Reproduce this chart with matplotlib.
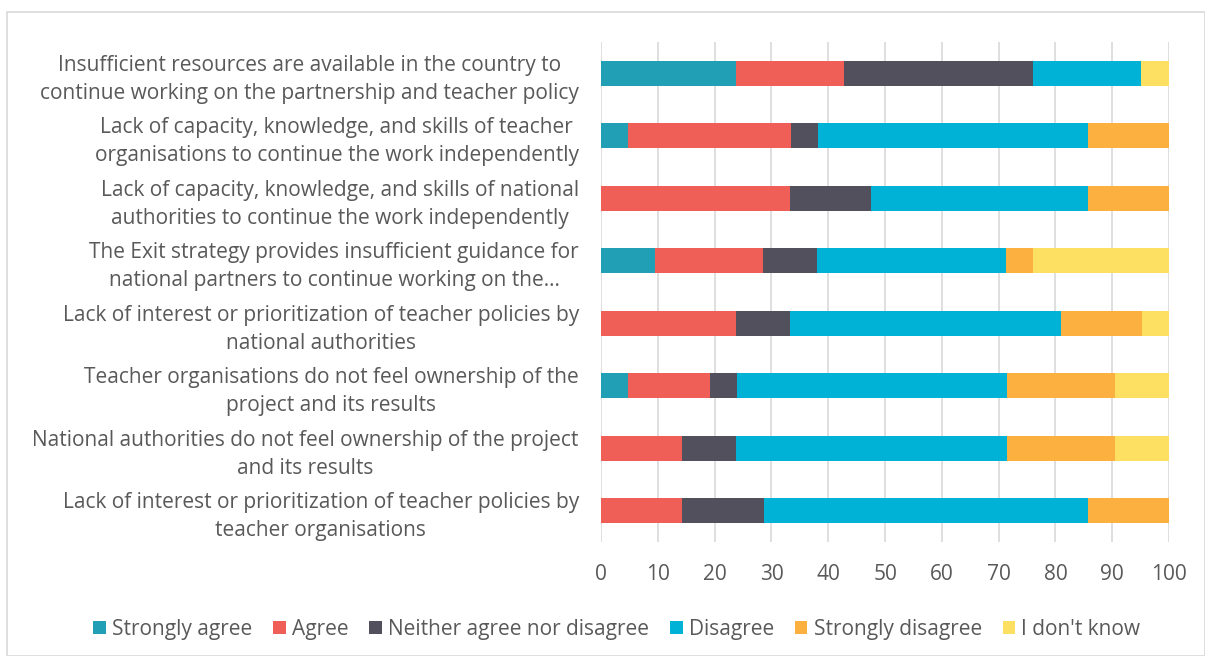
import matplotlib.pyplot as plt
from matplotlib.patches import Rectangle

# Survey statements (top to bottom)
CATEGORIES = [
    "Insufficient resources are available in the country to\ncontinue working on the partnership and teacher policy",
    "Lack of capacity, knowledge, and skills of teacher\norganisations to continue the work independently",
    "Lack of capacity, knowledge, and skills of national\nauthorities to continue the work independently",
    "The Exit strategy provides insufficient guidance for\nnational partners to continue working on the\u2026",
    "Lack of interest or prioritization of teacher policies by\nnational authorities",
    "Teacher organisations do not feel ownership of the\nproject and its results",
    "National authorities do not feel ownership of the project\nand its results",
    "Lack of interest or prioritization of teacher policies by\nteacher organisations",
]

SERIES = ["Strongly agree", "Agree", "Neither agree nor disagree",
          "Disagree", "Strongly disagree", "I don't know"]

strongly_agree = [23.8, 4.8, 0.0, 9.5, 0.0, 4.8, 0.0, 0.0]
agree          = [19.0, 28.6, 33.3, 19.0, 23.8, 14.3, 14.3, 14.3]
neither        = [33.3, 4.8, 14.3, 9.5, 9.5, 4.8, 9.5, 14.3]
disagree       = [19.0, 47.6, 38.1, 33.3, 47.6, 47.6, 47.6, 57.1]
strongly_dis   = [0.0, 14.3, 14.3, 4.8, 14.3, 19.0, 19.0, 14.3]
dont_know      = [4.8, 0.0, 0.0, 23.8, 4.8, 9.5, 9.5, 0.0]

COLORS = ["#209FB5", "#EF5F58", "#52505C", "#00B2D5", "#FBB040", "#FDE062"]
TEXT = "#595959"
FS = 15

plt.rcParams["font.family"] = ["Open Sans", "DejaVu Sans"]

fig = plt.figure(figsize=(12.05, 6.56), dpi=100)
ax = fig.add_axes([0.4988, 0.1738, 0.4714, 0.7622])

# light frame around the chart like the Excel chart area
fig.patches.append(Rectangle((7 / 1205, 0), 1 - 7 / 1205, 1 - 12 / 656,
                             transform=fig.transFigure, fill=False,
                             edgecolor="#D9D9D9", linewidth=1.2))

ypos = list(range(len(CATEGORIES)))
left = [0.0] * len(CATEGORIES)
for name, vals, col in zip(SERIES,
                           [strongly_agree, agree, neither, disagree, strongly_dis, dont_know],
                           COLORS):
    ax.barh(ypos, vals, left=left, height=0.4, color=col, label=name, zorder=3)
    left = [l + v for l, v in zip(left, vals)]

ax.set_xlim(0, 100)
ax.set_ylim(len(CATEGORIES) - 0.5, -0.5)
ax.set_xticks(range(0, 101, 10))
ax.set_yticks(ypos)
ax.set_yticklabels(CATEGORIES, multialignment="center", linespacing=1.45)
ax.tick_params(axis="y", length=0, pad=16, labelsize=FS, labelcolor=TEXT)
ax.tick_params(axis="x", length=0, pad=16, labelsize=FS, labelcolor=TEXT)
ax.grid(axis="x", color="#D9D9D9", linewidth=1.2, zorder=0)
for s in ax.spines.values():
    s.set_visible(False)

handles, labels = ax.get_legend_handles_labels()
leg = fig.legend(handles, labels, loc="center", bbox_to_anchor=(0.512, 0.041),
                 ncol=6, frameon=False, fontsize=FS, handlelength=0.6,
                 handleheight=0.6, handletextpad=0.3, columnspacing=1.0)
for t in leg.get_texts():
    t.set_color(TEXT)

fig.savefig("out.png", dpi=100)
